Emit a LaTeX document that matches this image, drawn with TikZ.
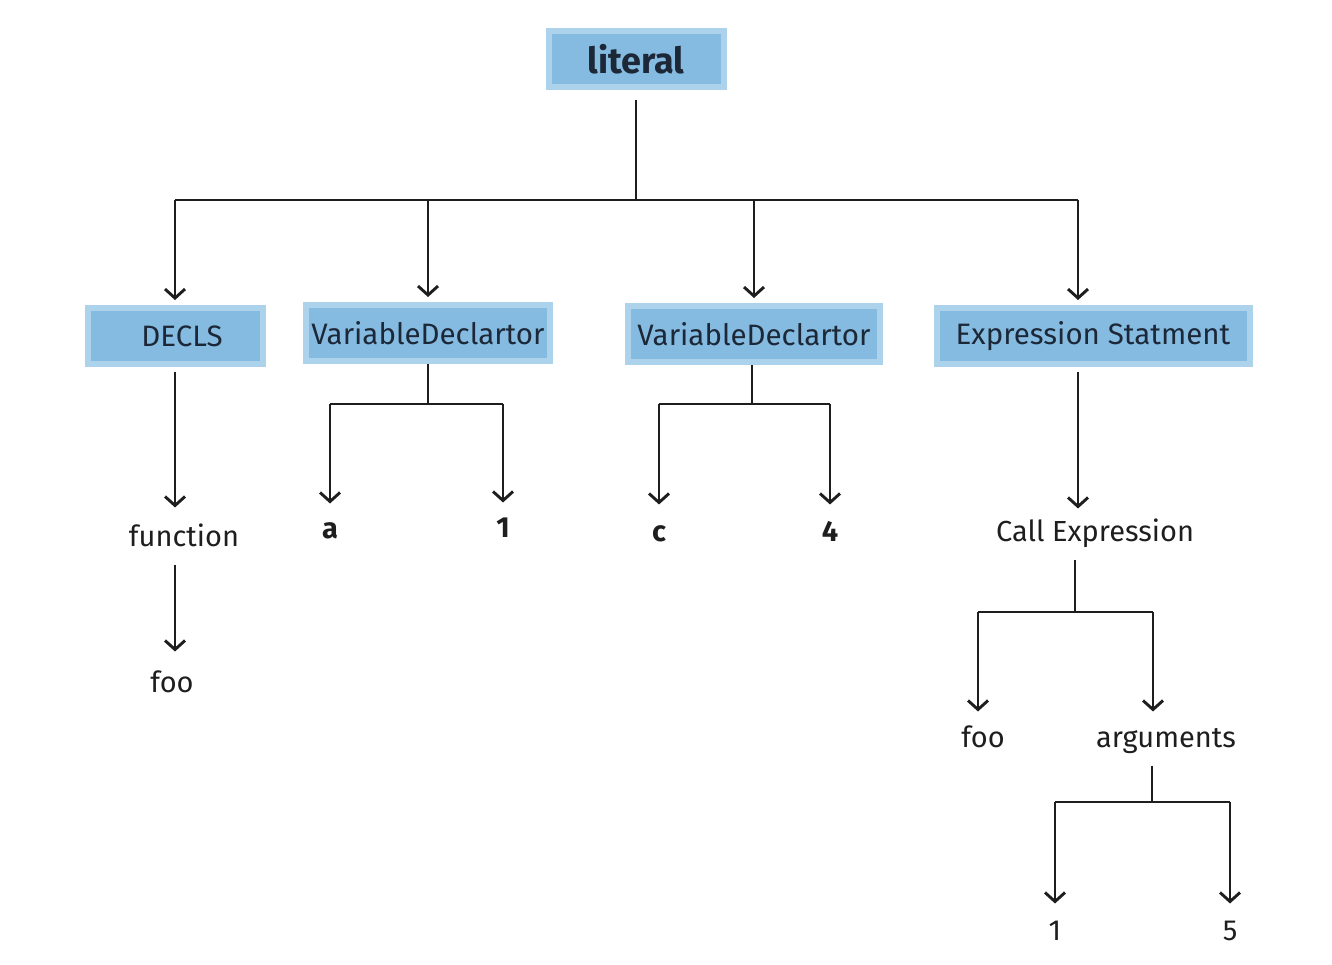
\documentclass[tikz,border=0pt]{standalone}
\usepackage{fontspec}
\setmainfont{Fira Sans}
\usepackage{tikz}
\usetikzlibrary{arrows.meta}
\definecolor{boxfill}{RGB}{133,187,224}
\definecolor{boxedge}{RGB}{172,210,236}
\definecolor{inkblack}{RGB}{30,30,30}
\definecolor{boxtext}{RGB}{28,40,56}
\tikzset{
	astbox/.style={draw=boxedge, line width=6pt, fill=boxfill, minimum height=56pt, inner sep=0pt, font=\fontsize{29.5}{33}\selectfont, text=boxtext}
}
\tikzset{
	leaftext/.style={font=\fontsize{29}{33}\selectfont, text=inkblack, text height=21pt, text depth=7pt}
}
\tikzset{
	edge/.style={draw=inkblack, line width=2.9pt}
}

\begin{document}
\begin{tikzpicture}[x=1pt, y=-1pt, >={Straight Barb[length=9pt, width=20pt]}]
      \useasboundingbox (0,0) rectangle (1332,964);
      % boxes
      \node[astbox, minimum width=175pt, font=\fontsize{36}{40}\selectfont\bfseries] (lit) at (636,59) {literal};
      \node[astbox, minimum width=175pt] (decls) at (175,336) {\hspace*{14pt}DECLS};
      \node[astbox, minimum width=244pt] (vdecl1) at (428,333) {VariableDeclartor};
      \node[astbox, minimum width=252pt] (vdecl2) at (754,334) {VariableDeclartor};
      \node[astbox, minimum width=313pt] (expr) at (1093,336) {Expression Statment};
      % leaves
      \node[leaftext] (func) at (184,539) {function};
      \node[leaftext] (funcname) at (172,685) {foo};
      \node[leaftext, font=\fontsize{29}{33}\selectfont\bfseries] (vala) at (330,531) {a};
      \node[leaftext, font=\fontsize{29}{33}\selectfont\bfseries] (valone) at (503,530) {1};
      \node[leaftext, font=\fontsize{29}{33}\selectfont\bfseries] (valc) at (659,534) {c};
      \node[leaftext, font=\fontsize{29}{33}\selectfont\bfseries] (valfour) at (830,534) {4};
      \node[leaftext] (call) at (1095,534) {Call Expression};
      \node[leaftext] (callee) at (983,740) {foo};
      \node[leaftext] (args) at (1166,740) {arguments};
      \node[leaftext] (argone) at (1055,933) {1};
      \node[leaftext] (argfive) at (1230,933) {5};
      % root fan-out
      \coordinate (litbar) at (636,200);
      \coordinate (exprin) at (1078,200);
      \draw[edge, shorten <=10pt] (lit) -- (litbar);
      \draw[edge] (litbar -| decls) -- (exprin);
      \draw[edge, ->, shorten >=5pt] (litbar -| decls) -- (decls);
      \draw[edge, ->, shorten >=5pt] (litbar -| vdecl1) -- (vdecl1);
      \draw[edge, ->, shorten >=5pt] (litbar -| vdecl2) -- (vdecl2);
      \draw[edge, ->, shorten >=5pt] (exprin) -- (exprin |- expr.north);
      % DECLS
      \draw[edge, ->, shorten <=5pt, shorten >=14pt] (decls.south) -- (decls.south |- func.north);
      \draw[edge, ->, shorten <=8pt, shorten >=16pt] (func.south -| decls) -- (funcname.north -| decls);
      % declarators
      \coordinate (vbar1) at (428,404);
      \draw[edge] (vdecl1.south -| vbar1) -- (vbar1);
      \draw[edge] (vbar1 -| vala) -- (vbar1 -| valone);
      \draw[edge, ->, shorten >=10pt] (vbar1 -| vala) -- (vala);
      \draw[edge, ->, shorten >=10pt] (vbar1 -| valone) -- (valone);
      \coordinate (vbar2) at (752,404);
      \draw[edge] (vdecl2.south -| vbar2) -- (vbar2);
      \draw[edge] (vbar2 -| valc) -- (vbar2 -| valfour);
      \draw[edge, ->, shorten >=12pt] (vbar2 -| valc) -- (valc);
      \draw[edge, ->, shorten >=12pt] (vbar2 -| valfour) -- (valfour);
      % expression
      \draw[edge, ->, shorten <=5pt, shorten >=8pt] (expr.south -| exprin) -- (call.north -| exprin);
      \coordinate (callbar) at (1075,612);
      \coordinate (callleft) at (978,612);
      \coordinate (callright) at (1153,612);
      \draw[edge, shorten <=8pt] (call.south -| callbar) -- (callbar);
      \draw[edge] (callleft) -- (callright);
      \draw[edge, ->, shorten >=11pt] (callleft) -- (callleft |- callee.north);
      \draw[edge, ->, shorten >=11pt] (callright) -- (callright |- args.north);
      \coordinate (argbar) at (1152,802);
      \draw[edge, shorten <=8pt] (args.south -| argbar) -- (argbar);
      \draw[edge] (argbar -| argone) -- (argbar -| argfive);
      \draw[edge, ->, shorten >=12pt] (argbar -| argone) -- (argone);
      \draw[edge, ->, shorten >=12pt] (argbar -| argfive) -- (argfive);
    \end{tikzpicture}
\end{document}
